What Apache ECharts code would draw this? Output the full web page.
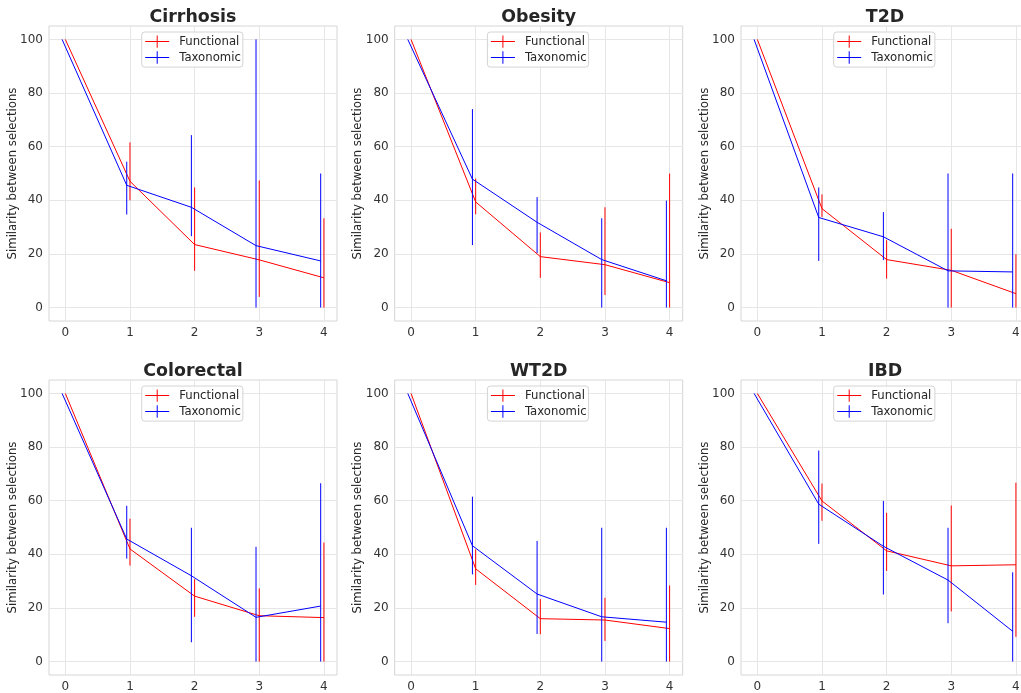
<!DOCTYPE html>
<html>
<head>
<meta charset="utf-8">
<script src="https://cdn.jsdelivr.net/npm/echarts@6/dist/echarts.min.js"></script>
<style>
html,body{margin:0;padding:0;background:#fff;}
#chart{width:1021px;height:693px;}
</style>
</head>
<body>
<div id="chart"></div>
<script>
// ---- data ----
const steps = [0, 1, 2, 3, 4];
const yTicks = [0, 20, 40, 60, 80, 100];
const titles = ['Cirrhosis', 'Obesity', 'T2D', 'Colorectal', 'WT2D', 'IBD'];
const seriesNames = ['Functional', 'Taxonomic'];

const cirrhosisFunctional = [100, 47.1, 23.5, 17.8, 11.1];
const cirrhosisFunctionalErr = [[100, 100], [40.0, 61.6], [13.7, 44.8], [4.0, 47.4], [0, 33.3]];
const cirrhosisTaxonomic = [100, 45.6, 37.4, 23.1, 17.4];
const cirrhosisTaxonomicErr = [[100, 100], [34.7, 54.4], [26.6, 64.3], [0, 100], [0, 50]];

const obesityFunctional = [100, 39.4, 19.0, 16.0, 9.3];
const obesityFunctionalErr = [[100, 100], [34.8, 48.1], [11.1, 28.0], [4.7, 37.4], [0, 50]];
const obesityTaxonomic = [100, 47.9, 31.8, 17.9, 10.0];
const obesityTaxonomicErr = [[100, 100], [23.3, 74.0], [20.3, 41.2], [0, 33.3], [0, 39.9]];

const t2dFunctional = [100, 36.9, 17.9, 13.9, 5.2];
const t2dFunctionalErr = [[100, 100], [33.8, 42.2], [10.8, 25.1], [0, 29.4], [0, 19.9]];
const t2dTaxonomic = [100, 33.6, 26.4, 13.7, 13.3];
const t2dTaxonomicErr = [[100, 100], [17.4, 44.8], [17.7, 35.6], [0, 50], [0, 50]];

const colorectalFunctional = [100, 42.0, 24.4, 17.1, 16.4];
const colorectalFunctionalErr = [[100, 100], [35.8, 53.3], [16.7, 30.7], [0, 27.3], [0, 44.4]];
const colorectalTaxonomic = [100, 45.7, 32.0, 16.5, 20.7];
const colorectalTaxonomicErr = [[100, 100], [38.4, 58.1], [7.2, 49.9], [0, 42.8], [0, 66.5]];

const wt2dFunctional = [100, 34.6, 16.0, 15.5, 12.3];
const wt2dFunctionalErr = [[100, 100], [28.6, 41.8], [10.2, 23.3], [7.7, 23.8], [0, 28.4]];
const wt2dTaxonomic = [100, 43.2, 25.2, 16.7, 14.7];
const wt2dTaxonomicErr = [[100, 100], [32.5, 61.5], [10.3, 45.0], [0, 49.9], [0, 49.9]];

const ibdFunctional = [100, 59.9, 41.3, 35.7, 36.1];
const ibdFunctionalErr = [[100, 100], [52.5, 66.4], [33.8, 55.5], [18.7, 58.2], [9.2, 66.7]];
const ibdTaxonomic = [100, 58.7, 43.0, 30.4, 11.3];
const ibdTaxonomicErr = [[100, 100], [43.9, 78.7], [25.0, 59.9], [14.3, 49.9], [0, 33.3]];

const panelData = [
  [cirrhosisFunctional, cirrhosisFunctionalErr, cirrhosisTaxonomic, cirrhosisTaxonomicErr],
  [obesityFunctional, obesityFunctionalErr, obesityTaxonomic, obesityTaxonomicErr],
  [t2dFunctional, t2dFunctionalErr, t2dTaxonomic, t2dTaxonomicErr],
  [colorectalFunctional, colorectalFunctionalErr, colorectalTaxonomic, colorectalTaxonomicErr],
  [wt2dFunctional, wt2dFunctionalErr, wt2dTaxonomic, wt2dTaxonomicErr],
  [ibdFunctional, ibdFunctionalErr, ibdTaxonomic, ibdTaxonomicErr]
];

// ---- layout / style ----
const FONT = 'DejaVu Sans';
const colors = ['#ff0000', '#0000ff'];
const xOffsets = [0, -0.05];
const colLeft = [49, 394.7, 741];
const rowTop = [26, 380];
const gridW = 288, gridH = 295;
const legendIcon = 'path://M0,6.5 H24 V7.5 H0 Z M11.5,0.8 H12.5 V13.2 H11.5 Z';

const grids = [], xAxes = [], yAxes = [], series = [], legends = [], titleOpts = [];

panelData.forEach((pd, i) => {
  const gl = colLeft[i % 3], gt = rowTop[Math.floor(i / 3)];
  grids.push({left: gl, top: gt, width: gridW, height: gridH, show: true,
    outerBoundsMode: 'none',
    borderColor: '#d6d6d6', borderWidth: 1, backgroundColor: '#fff'});
  xAxes.push({type: 'value', gridIndex: i, min: -0.2525, max: 4.2025,
    axisLine: {show: false}, axisTick: {show: false, customValues: steps},
    axisLabel: {customValues: steps, margin: 6, fontFamily: FONT, fontSize: 12, color: '#333',
      formatter: v => String(v)},
    splitLine: {show: true, lineStyle: {color: '#e6e6e6', width: 1}}});
  yAxes.push({type: 'value', gridIndex: i, min: -5, max: 105,
    name: 'Similarity between selections', nameLocation: 'middle', nameRotate: 90, nameGap: 30.5,
    nameMoveOverlap: false,
    nameTextStyle: {fontFamily: FONT, fontSize: 11.7, color: '#262626'},
    axisLine: {show: false}, axisTick: {show: false, customValues: yTicks},
    axisLabel: {customValues: yTicks, margin: 6, fontFamily: FONT, fontSize: 12, color: '#333'},
    splitLine: {show: true, lineStyle: {color: '#e6e6e6', width: 1}}});
  titleOpts.push({text: titles[i], left: gl + gridW / 2, top: gt - 17.5, textAlign: 'center', padding: 0,
    textStyle: {fontFamily: FONT, fontSize: 17.4, fontWeight: 'bold', color: '#262626'}});
  legends.push({orient: 'vertical', left: gl + 92.7, top: gt + 6, padding: [3.4, 2, 3.4, 3.5],
    itemWidth: 24, itemHeight: 14, itemGap: 3.5, borderColor: '#d4d4d4', borderWidth: 1, borderRadius: 3,
    backgroundColor: 'rgba(255,255,255,0.8)', selectedMode: false,
    textStyle: {fontFamily: FONT, fontSize: 11.7, color: '#262626', padding: [0, 0, 0, 5]},
    data: seriesNames.map((n, k) => ({name: n, icon: legendIcon, itemStyle: {color: colors[k], borderWidth: 0}}))});

  [0, 1].forEach(k => {
    const means = pd[k * 2], errs = pd[k * 2 + 1];
    const off = xOffsets[k], col = colors[k];
    series.push({
      name: seriesNames[k], type: 'custom', xAxisIndex: i, yAxisIndex: i, z: 2 + k * 2,
      itemStyle: {color: col}, silent: true,
      encode: {x: 0, y: [1, 2]},
      data: steps.map((s, j) => [s + off, errs[j][0], errs[j][1]]),
      renderItem: (params, api) => {
        const x = api.value(0);
        const p1 = api.coord([x, api.value(1)]);
        const p2 = api.coord([x, api.value(2)]);
        return {type: 'line', shape: {x1: p1[0], y1: p1[1], x2: p2[0], y2: p2[1]},
          style: {stroke: col, lineWidth: 1}};
      }
    });
    series.push({
      name: seriesNames[k], type: 'line', xAxisIndex: i, yAxisIndex: i, z: 3 + k * 2,
      symbol: 'none', silent: true,
      lineStyle: {color: col, width: 1}, itemStyle: {color: col},
      data: steps.map((s, j) => [s + off, means[j]])
    });
  });
});

const chart = echarts.init(document.getElementById('chart'), null, {renderer: 'canvas'});
chart.setOption({
  animation: false,
  backgroundColor: '#ffffff',
  title: titleOpts,
  legend: legends,
  grid: grids,
  xAxis: xAxes,
  yAxis: yAxes,
  series: series
});
</script>
</body>
</html>
